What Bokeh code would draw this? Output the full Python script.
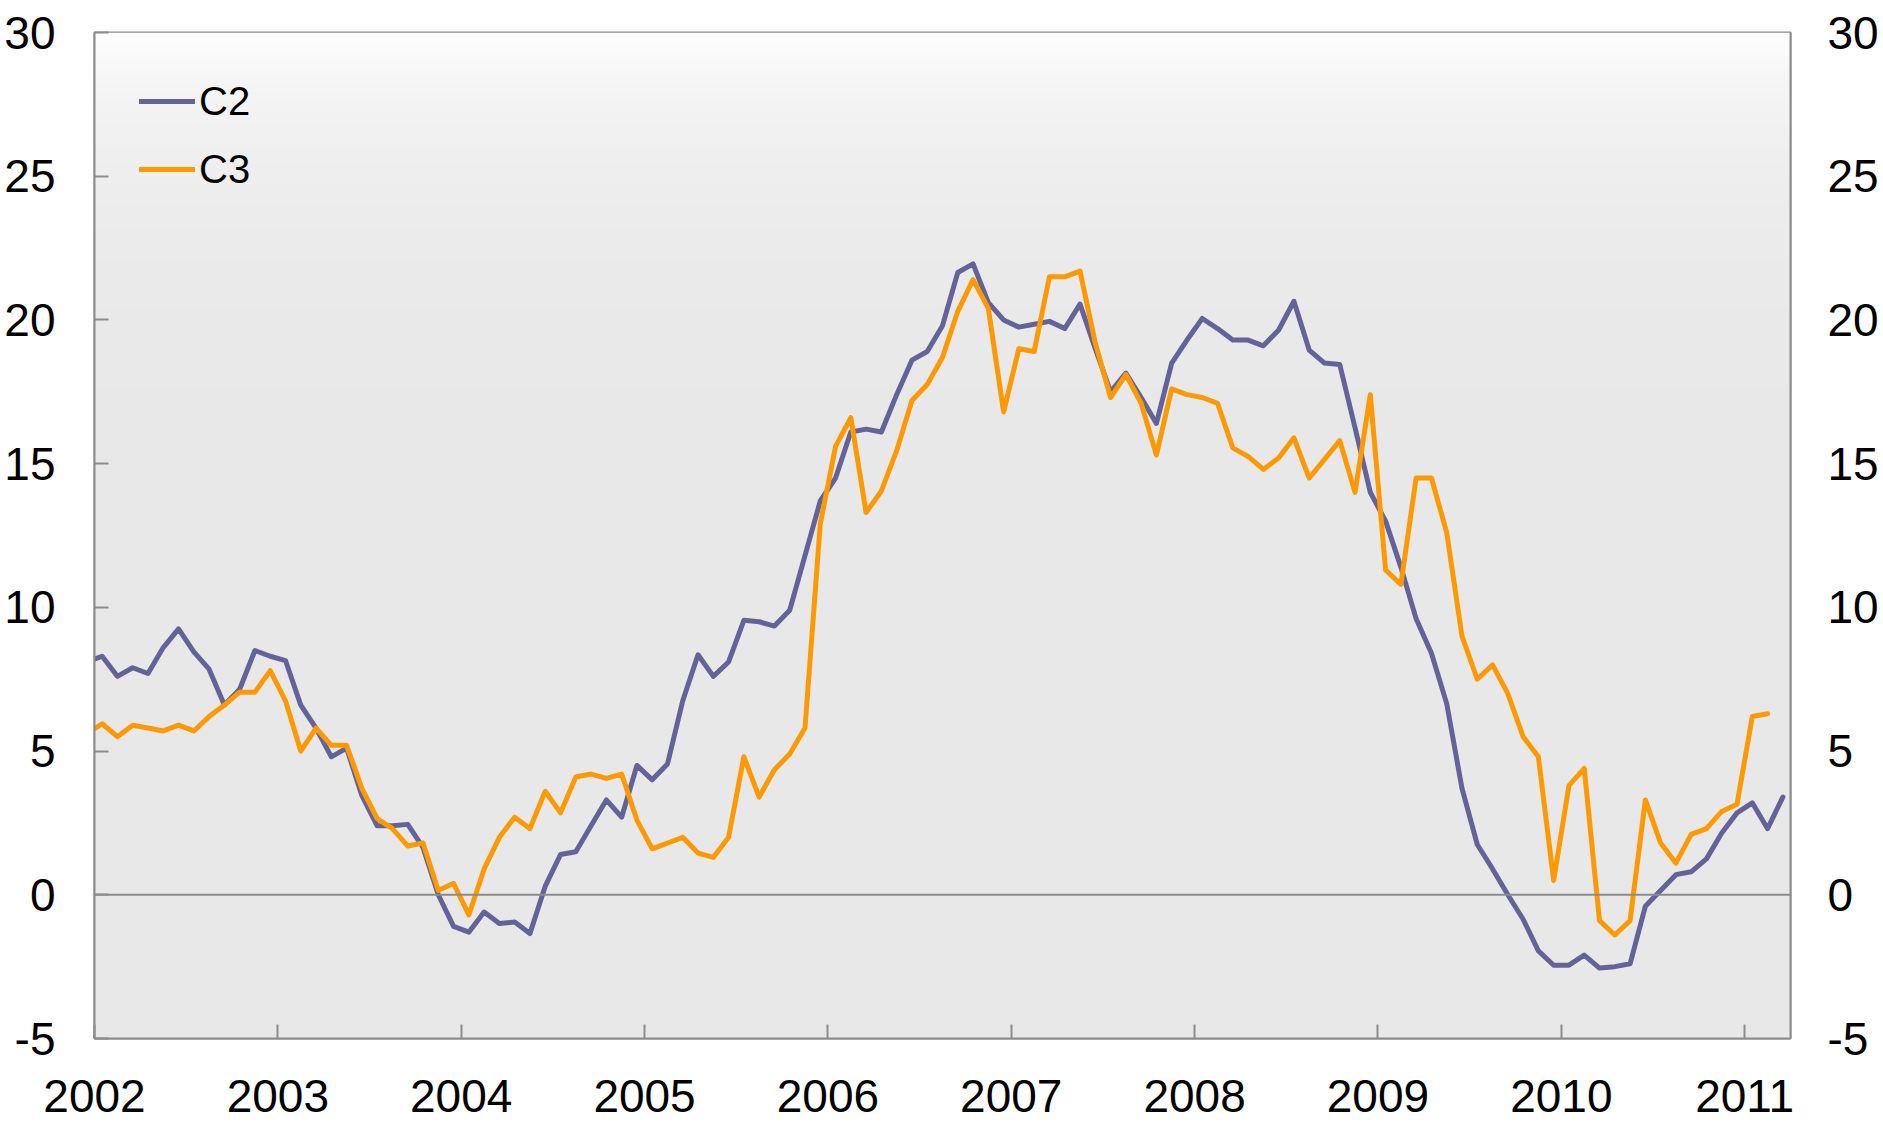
import numpy as np
from bokeh.plotting import figure
from bokeh.models import (LinearAxis, FixedTicker, Span, Legend, LegendItem,
                          Range1d, NumeralTickFormatter)
from bokeh.embed import file_html
from bokeh.resources import INLINE

# Monthly observations, Dec 2001 .. Mar 2011 (plotted at mid-month)
start_year = 2001
start_month = 12
c2 = [8.1, 8.3, 7.6, 7.9, 7.7, 8.6, 9.25, 8.45, 7.85, 6.6, 7.15, 8.5, 8.3,
      8.15, 6.6, 5.8, 4.8, 5.1, 3.45, 2.4, 2.4, 2.45, 1.65, 0.0, -1.1,
      -1.3, -0.6, -1.0, -0.95, -1.35, 0.3, 1.4, 1.5, 2.4, 3.3, 2.7, 4.5,
      4.0, 4.55, 6.75, 8.35, 7.6, 8.1, 9.55, 9.5, 9.35, 9.9, 11.8, 13.7,
      14.5, 16.1, 16.2, 16.1, 17.4, 18.6, 18.9, 19.8, 21.65, 21.95, 20.6,
      20.0, 19.75, 19.85, 19.95, 19.7, 20.55, 19.0, 17.5, 18.15, 17.3,
      16.4, 18.5, 19.3, 20.05, 19.7, 19.3, 19.3, 19.1, 19.65, 20.65,
      18.95, 18.5, 18.45, 16.25, 14.0, 13.0, 11.4, 9.6, 8.4, 6.65, 3.7,
      1.75, 0.9, 0.0, -0.85, -1.95, -2.45, -2.45, -2.1, -2.55, -2.5, -2.4,
      -0.4, 0.15, 0.7, 0.8, 1.25, 2.15, 2.85, 3.2, 2.3, 3.4]
c3 = [5.6, 5.95, 5.5, 5.9, 5.8, 5.7, 5.9, 5.7, 6.2, 6.6, 7.05, 7.05, 7.8,
      6.75, 5.0, 5.8, 5.2, 5.2, 3.7, 2.65, 2.3, 1.7, 1.8, 0.15, 0.4, -0.7,
      0.9, 2.0, 2.7, 2.3, 3.6, 2.85, 4.1, 4.2, 4.05, 4.2, 2.6, 1.6, 1.8,
      2.0, 1.45, 1.3, 2.0, 4.8, 3.4, 4.35, 4.9, 5.8, 12.9, 15.6, 16.6,
      13.3, 14.05, 15.45, 17.2, 17.75, 18.7, 20.3, 21.4, 20.4, 16.8, 19.0,
      18.9, 21.5, 21.5, 21.7, 19.2, 17.3, 18.1, 17.1, 15.3, 17.6, 17.4,
      17.3, 17.1, 15.55, 15.25, 14.8, 15.2, 15.9, 14.5, 15.15, 15.8, 14.0,
      17.4, 11.3, 10.8, 14.5, 14.5, 12.6, 9.0, 7.5, 8.0, 7.0, 5.5, 4.8,
      0.5, 3.8, 4.4, -0.9, -1.4, -0.9, 3.3, 1.8, 1.1, 2.1, 2.3, 2.9, 3.15,
      6.2, 6.3]
series_names = ["C2", "C3"]
year_ticks = [2002, 2003, 2004, 2005, 2006, 2007, 2008, 2009, 2010, 2011]
y_ticks = [-5, 0, 5, 10, 15, 20, 25, 30]
y_labels = {-5: "-5"}

x_c2 = [start_year + (start_month - 1 + i + 0.5) / 12.0 for i in range(len(c2))]
x_c3 = x_c2[:len(c3)]

FONT = "Liberation Sans"
GREY = "#8c8c8c"
COL_C2 = "#636399"
COL_C3 = "#ff9900"

p = figure(width=1883, height=1125, output_backend="svg", toolbar_location=None,
           x_range=Range1d(2002.0, 2011.25), y_range=Range1d(-5, 30),
           min_border_left=94, min_border_right=93, min_border_top=32,
           min_border_bottom=87)
p.xgrid.visible = False
p.ygrid.visible = False
p.outline_line_color = GREY
p.outline_line_width = 2
p.background_fill_color = "#e8e8e8"
p.border_fill_color = "white"

# vertical gradient background (white at top -> light grey)
H = 300
vals = -5 + (np.arange(H) + 0.5) * 35.0 / H
shade = 232 + 22 * np.exp(-(30 - vals) / 4.0)
img = np.empty((H, 1), dtype=np.uint32)
view = img.view(dtype=np.uint8).reshape((H, 1, 4))
view[:, 0, 0] = shade.astype(np.uint8)
view[:, 0, 1] = shade.astype(np.uint8)
view[:, 0, 2] = shade.astype(np.uint8)
view[:, 0, 3] = 255
p.image_rgba(image=[img], x=2002.0, y=-5, dw=9.25, dh=35)

p.add_layout(Span(location=0, dimension="width", line_color=GREY, line_width=2))

r2 = p.line(x_c2, c2, line_color=COL_C2, line_width=5, line_join="round", line_cap="round")
r3 = p.line(x_c3, c3, line_color=COL_C3, line_width=5, line_join="round", line_cap="round")

# axes
xa = p.xaxis[0]
xa.ticker = FixedTicker(ticks=year_ticks)
xa.formatter = NumeralTickFormatter(format="0")
xa.major_tick_in = 14
xa.major_tick_out = 0
xa.minor_tick_line_color = None
xa.major_tick_line_color = GREY
xa.major_tick_line_width = 2
xa.axis_line_color = GREY
xa.axis_line_width = 2
xa.major_label_text_font = FONT
xa.major_label_text_font_size = "46px"
xa.major_label_text_color = "black"
xa.major_label_standoff = 41

ya = p.yaxis[0]
ya.ticker = FixedTicker(ticks=y_ticks)
ya.major_label_overrides = y_labels
ya.major_tick_in = 14
ya.major_tick_out = 0
ya.minor_tick_line_color = None
ya.major_tick_line_color = GREY
ya.major_tick_line_width = 2
ya.axis_line_color = GREY
ya.axis_line_width = 2
ya.major_label_text_font = FONT
ya.major_label_text_font_size = "46px"
ya.major_label_text_color = "black"
ya.major_label_standoff = 39

yr = LinearAxis(ticker=FixedTicker(ticks=y_ticks))
yr.major_label_overrides = y_labels
yr.major_tick_line_color = None
yr.minor_tick_line_color = None
yr.major_tick_in = 0
yr.major_tick_out = 0
yr.axis_line_color = GREY
yr.axis_line_width = 2
yr.major_label_text_font = FONT
yr.major_label_text_font_size = "46px"
yr.major_label_text_color = "black"
yr.major_label_standoff = 37
p.add_layout(yr, "right")

legend = Legend(items=[LegendItem(label=series_names[0], renderers=[r2]),
                       LegendItem(label=series_names[1], renderers=[r3])],
                location="top_left", margin=45, padding=0, spacing=20,
                glyph_width=56, glyph_height=48, label_height=48,
                label_standoff=4, border_line_color=None,
                background_fill_alpha=0,
                label_text_font=FONT, label_text_font_size="40px",
                label_text_color="black")
p.add_layout(legend)

open("out.html", "w").write(file_html(p, INLINE))
